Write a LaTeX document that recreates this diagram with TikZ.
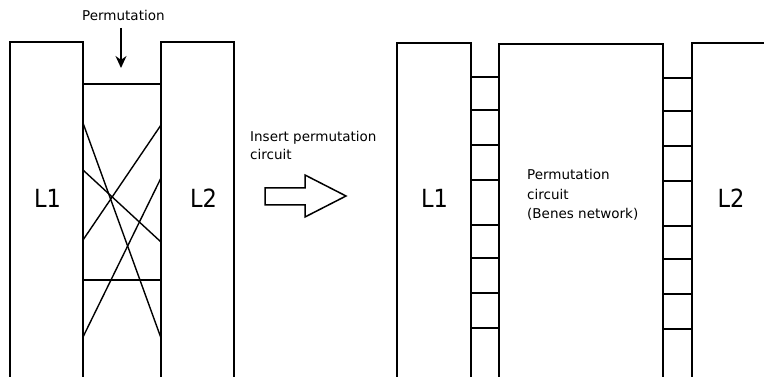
\documentclass[tikz,border=0pt]{standalone}
\usepackage{fontspec}
\setmainfont{DejaVu Sans}
\usetikzlibrary{arrows.meta}
\begin{document}
\begin{tikzpicture}[x=1pt,y=-1pt,
  wall/.style={draw=black,line width=1.6pt,line join=miter},
  wire/.style={draw=black,line width=1.4pt},
  lbl/.style={font=\fontsize{13.5}{18.5}\selectfont, anchor=base west, inner sep=0pt},
  big/.style={font=\fontsize{25}{28}\selectfont, inner sep=0pt}]
\useasboundingbox (0,0) rectangle (764,377);

% ---------- left panel ----------
\draw[wall] (10,377) -- (10,42) -- (83,42) -- (83,377);
\draw[wall] (161,377) -- (161,42) -- (234,42) -- (234,377);
\node[big] (l1a) at (47.5,198) {\scalebox{0.9}[1]{L1}};
\node[big] (l2a) at (203.5,198) {\scalebox{0.9}[1]{L2}};

% wire endpoints
\coordinate (a1) at (83,123);  \coordinate (b1) at (161,338);
\coordinate (a2) at (83,170);  \coordinate (b2) at (161,242);
\coordinate (c1) at (161,125); \coordinate (d1) at (83,240);
\coordinate (c2) at (161,178); \coordinate (d2) at (83,337);
\coordinate (h1l) at (83,84);  \coordinate (h1r) at (161,84);
\coordinate (h2l) at (83,280); \coordinate (h2r) at (161,280);
\draw[wire] (h1l) -- (h1r);
\draw[wire] (h2l) -- (h2r);
\draw[wire] (a1) -- (b1);
\draw[wire] (a2) -- (b2);
\draw[wire] (c1) -- (d1);
\draw[wire] (c2) -- (d2);

\node[lbl] (perm) at (82,21) {Permutation};
\coordinate (pa) at (121,28);
\coordinate (pb) at (121,68);
\draw[line width=1.5pt,-{Stealth[length=12pt,width=11pt]}] (pa) -- (pb);

% ---------- block arrow ----------
\node[lbl] (ins1) at (250,142) {Insert permutation};
\node[lbl] (ins2) at (250,160) {circuit};
\draw[line width=1.5pt,line join=miter,fill=white]
  (265,188) -- (305,188) -- (305,175) -- (346,196) -- (305,217) -- (305,205) -- (265,205) -- cycle;

% ---------- right panel ----------
\draw[wall] (397,377) -- (397,43) -- (471,43) -- (471,377);
\draw[wall] (499,377) -- (499,44) -- (663,44) -- (663,377);
\draw[wall] (692,377) -- (692,43) -- (764,43);
\node[big] (l1b) at (434.5,198) {\scalebox{0.9}[1]{L1}};
\node[big] (l2b) at (731,198) {\scalebox{0.9}[1]{L2}};
\node[lbl] (pc1) at (527,180) {Permutation};
\node[lbl] (pc2) at (527,199.5) {circuit};
\node[lbl] (pc3) at (527,219) {(Benes network)};

\foreach \y in {77,110,145,180,225,258,293,328}{
  \draw[wire] (471,\y) -- (499,\y);
}
\foreach \y in {78,111,146,181,226,259,294,329}{
  \draw[wire] (663,\y) -- (692,\y);
}
\end{tikzpicture}
\end{document}
